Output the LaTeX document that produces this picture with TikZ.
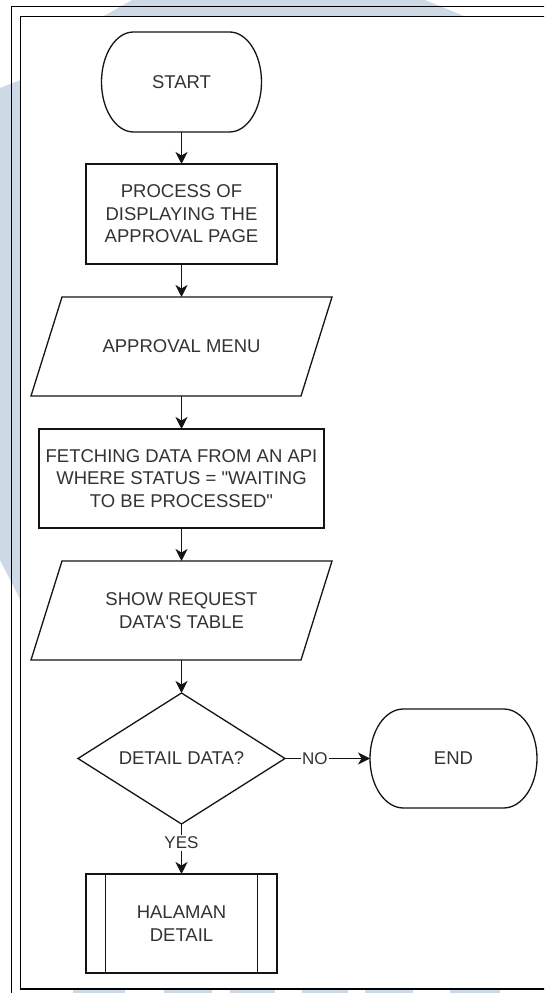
\documentclass[tikz,border=0pt]{standalone}
\usepackage{fontspec}
\newfontfamily\dfont{Liberation Sans}
\usetikzlibrary{arrows.meta}
\definecolor{wm}{RGB}{205,217,229}
\definecolor{txt}{RGB}{51,51,51}
\definecolor{lncol}{RGB}{20,20,20}
\tikzset{
  box/.style 2 args={draw=none, inner sep=0pt, outer sep=0pt, align=center, text=txt,
    minimum width=#1, minimum height=#2, font=\dfont\fontsize{18.5}{22.5}\selectfont},
  shp/.style={draw=lncol, line width=1.3pt, line join=miter},
  arr/.style={draw=lncol, line width=1.3pt, -{Stealth[length=12pt,width=12pt,inset=3.5pt]}},
  lbl/.style={fill=white, inner sep=1.5pt, text=txt, font=\dfont\fontsize{17}{20}\selectfont},
}
\begin{document}
\begin{tikzpicture}[x=1pt,y=1pt]
\useasboundingbox (0,0) rectangle (544,993);
\begin{scope}
  \clip (0,0) rectangle (544,993);
  % watermark remnants
  \fill[wm] (132,993) -- (425,993) -- (465,976.5) -- (103,976.5) -- cycle;
  \fill[wm] (0,905) -- (20.5,913) -- (20.5,393) -- (0,433) -- cycle;
  \foreach \a/\b in {73/125,164/212,230/275,302/348,365/413,450/500}
    \fill[wm] (\a,0) rectangle (\b,4);
  % frames
  \draw[line width=1pt] (11,-5) -- (11,986) -- (560,986);
  \draw[line width=1.8pt, fill=white] (20.5,4) rectangle (560,976.5);
\end{scope}

% nodes
\node[box={160pt}{100pt}] (start) at (181.5,911) {START};
\node[box={191pt}{100pt}] (proc) at (181.5,779) {PROCESS OF\\DISPLAYING THE\\APPROVAL PAGE};
\node[box={270pt}{99pt}] (menu) at (181.5,646.5) {APPROVAL MENU};
\node[box={285pt}{99pt}] (fetch) at (181.5,514.5) {FETCHING DATA FROM AN API\\WHERE STATUS = "WAITING\\TO BE PROCESSED"};
\node[box={270pt}{99pt}] (show) at (181.5,382.5) {SHOW REQUEST\\DATA'S TABLE};
\node[box={207pt}{131pt}] (dec) at (181.5,234.5) {DETAIL DATA?};
\node[box={167pt}{99pt}] (endn) at (453.5,234.5) {END};
\node[box={191pt}{99pt}] (sub) at (181.5,69.5) {HALAMAN\\DETAIL};

% shapes
\draw[shp] ([xshift=32pt]start.north west) -- ([xshift=-32pt]start.north east)
  arc[start angle=90,end angle=-90,x radius=32pt,y radius=50pt]
  -- ([xshift=32pt]start.south west)
  arc[start angle=270,end angle=90,x radius=32pt,y radius=50pt] -- cycle;
\draw[shp] (proc.south west) rectangle (proc.north east);
\draw[shp] ([xshift=15.5pt]menu.north west) -- ([xshift=15.5pt]menu.north east)
  -- ([xshift=-15.5pt]menu.south east) -- ([xshift=-15.5pt]menu.south west) -- cycle;
\draw[shp] (fetch.south west) rectangle (fetch.north east);
\draw[shp] ([xshift=15.5pt]show.north west) -- ([xshift=15.5pt]show.north east)
  -- ([xshift=-15.5pt]show.south east) -- ([xshift=-15.5pt]show.south west) -- cycle;
\draw[shp] (dec.north) -- (dec.east) -- (dec.south) -- (dec.west) -- cycle;
\draw[shp] ([xshift=33.4pt]endn.north west) -- ([xshift=-33.4pt]endn.north east)
  arc[start angle=90,end angle=-90,x radius=33.4pt,y radius=49.5pt]
  -- ([xshift=33.4pt]endn.south west)
  arc[start angle=270,end angle=90,x radius=33.4pt,y radius=49.5pt] -- cycle;
\draw[shp] (sub.south west) rectangle (sub.north east);
\draw[shp] ([xshift=19.5pt]sub.south west) -- ([xshift=19.5pt]sub.north west);
\draw[shp] ([xshift=-19.5pt]sub.south east) -- ([xshift=-19.5pt]sub.north east);

% connectors
\draw[arr] (start.south) -- (proc.north);
\draw[arr] (proc.south) -- (menu.north);
\draw[arr] (menu.south) -- (fetch.north);
\draw[arr] (fetch.south) -- (show.north);
\draw[arr] (show.south) -- (dec.north);
\draw[arr] (dec.east) -- node[lbl, pos=0.35] (no) {NO} (endn.west);
\draw[arr] (dec.south) -- node[lbl, pos=0.38] (yes) {YES} (sub.north);
\end{tikzpicture}
\end{document}
